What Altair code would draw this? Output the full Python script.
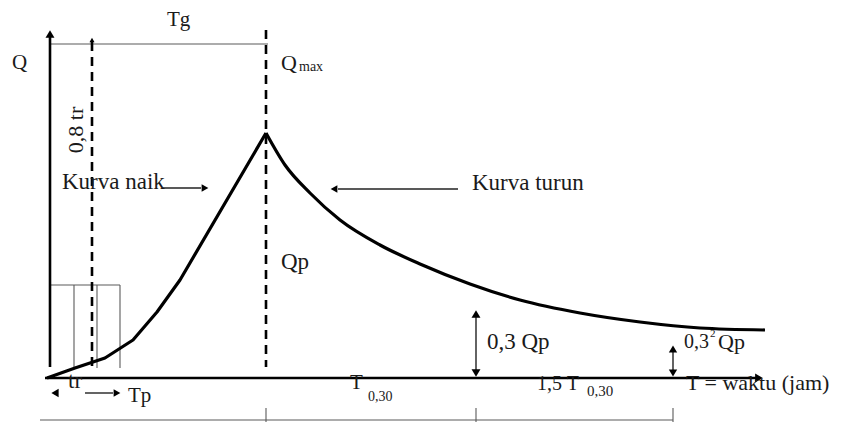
import altair as alt
import pandas as pd

# ---- data (diagram units = picture pixels) ----
rise_x = [47, 75, 105, 133, 157, 180, 266]
rise_y = [378, 368, 358, 340, 312, 280, 133]
fall_x = [266, 285, 310, 340, 380, 420, 470, 520, 580, 640, 700, 765]
fall_y = [133, 165, 193, 220, 245, 264, 284, 300, 313, 322, 328, 330]

thick_x = [50, 45]
thick_y = [367, 378]
thick_x2 = [50, 756]
thick_y2 = [36, 378]

dash_x = [92, 266]
dash_y = [42, 30]
dash_y2 = [367, 367]

grey_x = [50, 40, 266, 476, 673, 50, 74, 97, 120]
grey_y = [44, 420, 408, 408, 408, 285, 285, 285, 285]
grey_x2 = [268, 673, 266, 476, 673, 120, 74, 97, 120]
grey_y2 = [44, 420, 430, 430, 430, 285, 368, 368, 368]

thin_x = [476, 673, 163, 458, 85]
thin_y = [316, 350, 188, 189, 393]
thin_x2 = [476, 673, 201, 338, 113]
thin_y2 = [372, 372, 188, 189, 393]

head_x = [50, 759, 476, 476, 673, 673, 205, 334, 55, 117, 92]
head_y = [34, 378, 314, 373, 349, 373, 188, 189, 393, 393, 40]
head_shape = ["triangle-up", "triangle-right", "triangle-up", "triangle-down",
              "triangle-up", "triangle-down", "triangle-right", "triangle-left",
              "triangle-left", "triangle-right", "triangle-up"]
head_size = [80, 80, 80, 80, 70, 70, 60, 60, 70, 60, 25]

label_text = ["Q", "Tg", "Q", "max", "Kurva naik", "Kurva turun", "Qp",
              "0,3 Qp", "0,3", "2", "Qp", "T = waktu (jam)", "T", "0,30",
              "1,5 T", "0,30", "tr", "Tp"]
label_x = [12, 167, 281, 299, 62, 472, 281, 487, 684, 710, 718, 686, 350, 368,
           537, 587, 68, 128]
label_y = [63, 20, 63, 67, 182, 183, 262, 342, 342, 334, 342, 383, 383, 397,
           384, 391, 381, 396]
label_size = [21, 21, 22, 14, 23, 23, 23, 23, 20, 11, 22, 22, 21, 14, 20, 15, 23, 21]

rot_text = ["0,8 tr"]
rot_x = [76]
rot_y = [130]

FONT = "Liberation Serif"

xs = alt.Scale(domain=[8, 835], nice=False, zero=False)
ys = alt.Scale(domain=[8, 422], nice=False, zero=False, reverse=True)

def X(f="x"):
    return alt.X(f"{f}:Q", scale=xs, axis=None)

def Y(f="y"):
    return alt.Y(f"{f}:Q", scale=ys, axis=None)

rise_df = pd.DataFrame({"x": rise_x, "y": rise_y, "o": list(range(len(rise_x)))})
fall_df = pd.DataFrame({"x": fall_x, "y": fall_y, "o": list(range(len(fall_x)))})
rise = alt.Chart(rise_df).mark_line(color="black", strokeWidth=3.2, strokeJoin="round").encode(
    x=X(), y=Y(), order="o:Q")
fall = alt.Chart(fall_df).mark_line(color="black", strokeWidth=3.2, interpolate="monotone").encode(
    x=X(), y=Y(), order="o:Q")

def seg_layer(xa, ya, xb, yb, **kw):
    df = pd.DataFrame({"x": xa, "y": ya, "x2": xb, "y2": yb})
    return alt.Chart(df).mark_rule(**kw).encode(
        x=X(), y=Y(), x2="x2:Q", y2="y2:Q")

thick = seg_layer(thick_x, thick_y, thick_x2, thick_y2, color="black", strokeWidth=2.6)
dash = seg_layer(dash_x, dash_y, dash_x, dash_y2, color="black", strokeWidth=2.6,
                 strokeDash=[9, 6])
grey = seg_layer(grey_x, grey_y, grey_x2, grey_y2, color="#5a5a5a", strokeWidth=1.1)
thin = seg_layer(thin_x, thin_y, thin_x2, thin_y2, color="#222222", strokeWidth=1.4)

heads_df = pd.DataFrame({"x": head_x, "y": head_y, "shape": head_shape, "size": head_size})
heads = alt.Chart(heads_df).mark_point(filled=True, color="black", opacity=1).encode(
    x=X(), y=Y(),
    shape=alt.Shape("shape:N", scale=None, legend=None),
    size=alt.Size("size:Q", scale=None, legend=None))

lab_df = pd.DataFrame({"t": label_text, "x": label_x, "y": label_y, "s": label_size})
labels = alt.Chart(lab_df).mark_text(font=FONT, align="left", baseline="middle",
                                     color="#1a1a1a").encode(
    x=X(), y=Y(), text="t:N", size=alt.Size("s:Q", scale=None, legend=None))

rot_df = pd.DataFrame({"t": rot_text, "x": rot_x, "y": rot_y})
rot = alt.Chart(rot_df).mark_text(font=FONT, align="center", baseline="middle",
                                  angle=270, fontSize=22, color="#1a1a1a").encode(
    x=X(), y=Y(), text="t:N")

chart = alt.layer(grey, thin, dash, thick, rise, fall, heads, labels, rot).properties(
    width=827, height=414,
    autosize=alt.AutoSizeParams(type="none"),
    padding=0,
).configure_view(stroke=None)

chart.save("out.html", embed_options={"renderer": "svg", "actions": False})
